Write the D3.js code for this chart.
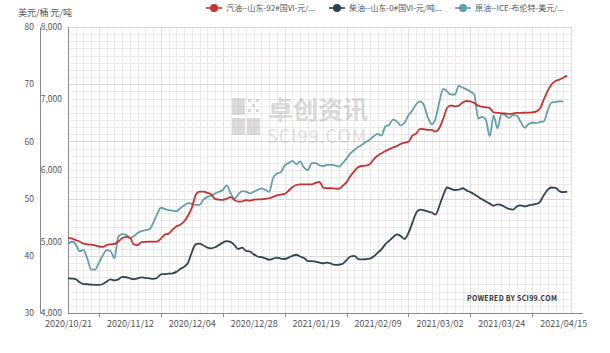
<!DOCTYPE html>
<html><head><meta charset="utf-8">
<script src="https://cdn.jsdelivr.net/npm/d3@7"></script>
<style>
body{margin:0;background:#fff}
svg{display:block}
text{font-family:"Microsoft YaHei","Noto Sans CJK SC","Noto Sans",sans-serif}
</style>
</head><body>
<svg id="chart" width="610" height="353"></svg>
<script>
// ---------------- data ----------------
const xLabels = ["2020/10/21","2020/11/12","2020/12/04","2020/12/28","2021/01/19","2021/02/09","2021/03/02","2021/03/24","2021/04/15"];
const labelStep = 16;
const seriesNames = ["汽油--山东-92#国VI-元/...","柴油--山东-0#国VI-元/吨...","原油--ICE-布伦特-美元/..."];
const seriesColors = ["#c23531","#2f4554","#61a0a8"];
const usdTicks = [30,40,50,60,70,80];
const yuanTicks = [4000,5000,6000,7000,8000];
const axisTitle = "美元/桶 元/吨";

// 汽油 (元/吨)
const gasoline = [5050,5040,5020,5000,4970,4960,4955,4945,4930,4925,4950,4960,4965,5000,5045,5065,5055,4960,4950,4990,
4995,4997,4997,4997,5040,5095,5110,5165,5210,5235,5280,5360,5470,5650,5697,5697,5680,5660,5595,5585,
5582,5600,5620,5580,5557,5560,5580,5572,5585,5590,5590,5595,5605,5625,5645,5655,5665,5710,5760,5790,
5800,5800,5800,5800,5820,5832,5750,5745,5745,5740,5738,5780,5830,5915,5985,6040,6056,6060,6080,6150,
6200,6233,6265,6290,6315,6335,6365,6382,6395,6480,6510,6575,6570,6560,6560,6536,6590,6720,6870,6905,
6890,6900,6945,6965,6960,6935,6900,6885,6877,6865,6805,6800,6795,6790,6785,6790,6798,6800,6801,6803,
6806,6820,6860,6990,7110,7200,7245,7265,7290,7320];
// 柴油 (元/吨)
const diesel = [4485,4482,4475,4430,4405,4402,4398,4393,4392,4405,4440,4470,4455,4470,4505,4500,4485,4472,4485,4498,
4490,4485,4478,4490,4540,4545,4550,4555,4575,4615,4645,4700,4850,4960,4970,4945,4915,4905,4920,4950,
4985,5005,4995,4950,4895,4915,4870,4860,4820,4790,4780,4765,4745,4760,4775,4760,4755,4775,4800,4815,
4790,4770,4725,4725,4720,4705,4695,4705,4690,4672,4675,4690,4740,4790,4800,4755,4750,4752,4760,4790,
4840,4890,4960,5010,5060,5100,5075,5035,5120,5260,5400,5445,5435,5420,5405,5375,5500,5650,5755,5735,
5720,5725,5745,5715,5690,5660,5625,5590,5560,5530,5500,5520,5510,5480,5455,5445,5490,5505,5490,5505,
5515,5525,5555,5650,5725,5755,5750,5705,5690,5697];
// 原油 ICE 布伦特 (美元/桶)
const brent = [42.0,42.5,42.0,40.8,41.0,39.5,37.6,37.6,38.8,40.1,41.0,40.8,39.6,43.3,43.8,43.7,43.1,43.4,44.0,44.3,
44.5,44.6,45.7,47.2,48.4,48.2,48.0,47.9,47.8,48.3,48.8,49.2,49.1,48.9,48.9,49.8,50.3,50.5,50.9,51.2,
51.5,52.3,51.0,50.0,50.7,51.3,51.2,50.9,51.2,51.5,51.8,51.5,51.2,53.6,54.4,54.6,55.8,56.2,56.6,56.0,
56.5,55.4,55.0,56.2,56.2,55.8,55.7,55.9,55.9,55.8,55.6,56.2,57.0,57.9,58.5,59.0,59.4,59.9,60.3,60.9,
61.3,61.0,62.6,62.9,63.8,63.5,62.8,63.3,64.6,65.4,66.5,67.0,66.3,64.2,63.0,64.0,67.0,69.2,68.7,68.2,
68.2,69.7,69.4,69.1,68.7,68.2,64.0,64.3,63.8,60.9,64.5,62.3,64.8,64.6,64.1,64.6,64.5,63.4,62.4,63.0,
63.3,63.2,63.4,63.5,65.5,66.8,66.9,67.0,67.0];

// ---------------- layout ----------------
const plot = {left:68, right:571, top:27, bottom:313};
const svg = d3.select("#chart");

const x = d3.scaleLinear().domain([0,130]).range([plot.left, plot.right]);
const yUsd = d3.scaleLinear().domain([30,80]).range([plot.bottom, plot.top]);
const yYuan = d3.scaleLinear().domain([4000,8000]).range([plot.bottom, plot.top]);

// minor grid
const g = svg.append("g");
const minorH = d3.range(30, 80.001, 1.25);
g.selectAll("line.mh").data(minorH).join("line")
  .attr("x1", plot.left).attr("x2", plot.right)
  .attr("y1", d=>Math.round(yUsd(d))+0.5).attr("y2", d=>Math.round(yUsd(d))+0.5)
  .attr("stroke", "#efe8e8").attr("stroke-width", 1);
const minorV = d3.range(0, 130.001, 2);
g.selectAll("line.mv").data(minorV).join("line")
  .attr("x1", d=>Math.round(x(d))+0.5).attr("x2", d=>Math.round(x(d))+0.5)
  .attr("y1", plot.top).attr("y2", plot.bottom)
  .attr("stroke", "#efe8e8").attr("stroke-width", 1);
// major grid
g.selectAll("line.MH").data(usdTicks).join("line")
  .attr("x1", plot.left).attr("x2", plot.right)
  .attr("y1", d=>Math.round(yUsd(d))+0.5).attr("y2", d=>Math.round(yUsd(d))+0.5)
  .attr("stroke", "#d8d8d8");
const majorV = d3.range(8, 130, labelStep);
g.selectAll("line.MV").data(majorV).join("line")
  .attr("x1", d=>Math.round(x(d))+0.5).attr("x2", d=>Math.round(x(d))+0.5)
  .attr("y1", plot.top).attr("y2", plot.bottom)
  .attr("stroke", "#e0e0e0");
g.append("line").attr("x1", plot.right+0.5).attr("x2", plot.right+0.5)
  .attr("y1", plot.top).attr("y2", plot.bottom).attr("stroke", "#dcdcdc");

// watermark
const wm = svg.append("g").attr("opacity", 0.5);
[[232,98],[232,118],[247,118]].forEach(([a,b])=>{
  wm.append("rect").attr("x",a).attr("y",b).attr("width",13).attr("height",17).attr("fill","#b8b8b8");
});
for (let i=0;i<3;i++) for (let j=0;j<3;j++) if ((i+j)%2===0)
  wm.append("rect").attr("x",248+i*4).attr("y",99+j*5).attr("width",3).attr("height",3).attr("fill","#b8b8b8");
wm.append("text").attr("x",268).attr("y",119).attr("font-size",25).attr("fill","#b8b8b8")
  .attr("font-family","'Noto Sans CJK SC'").attr("font-weight","bold").text("卓创资讯");
wm.append("text").attr("x",267).attr("y",143).attr("font-size",18).attr("fill","#c4c4c4")
  .attr("font-family","'Liberation Serif','DejaVu Serif',serif").attr("letter-spacing","1").text("SCI99.COM");

// axes
const xAxis = d3.axisBottom(x)
  .tickValues(d3.range(0, 129, labelStep))
  .tickSize(0).tickPadding(8)
  .tickFormat((d,i)=>xLabels[i]);
const xg = svg.append("g").attr("transform", `translate(0,${plot.bottom})`).call(xAxis);
xg.select(".domain").attr("stroke","#8a8a8a").attr("d", `M${plot.left},0.5H${plot.right+12}`);
xg.selectAll("text").attr("font-size",9).attr("fill","#555");
svg.append("g").selectAll("line").data(majorV).join("line")
  .attr("x1", d=>Math.round(x(d))+0.5).attr("x2", d=>Math.round(x(d))+0.5)
  .attr("y1", plot.bottom).attr("y2", plot.bottom+4).attr("stroke","#8a8a8a");

const yYuanAxis = d3.axisLeft(yYuan).tickValues(yuanTicks).tickSize(0).tickPadding(6)
  .tickFormat(d3.format(","));
const yg2 = svg.append("g").attr("transform", `translate(${plot.left},0)`).call(yYuanAxis);
yg2.select(".domain").attr("stroke","#8a8a8a");
yg2.selectAll("text").attr("font-size",8.5).attr("fill","#555");

const yUsdAxis = d3.axisLeft(yUsd).tickValues(usdTicks).tickSize(0).tickPadding(6);
const yg1 = svg.append("g").attr("transform", `translate(40,0)`).call(yUsdAxis);
yg1.select(".domain").attr("stroke","#8a8a8a");
yg1.selectAll("text").attr("font-size",8.5).attr("fill","#555");

svg.append("text").attr("x",18).attr("y",16).attr("font-size",9).attr("fill","#555").text(axisTitle);

// lines
const lineYuan = d3.line().x((d,i)=>x(i)).y(d=>yYuan(d)).curve(d3.curveMonotoneX);
const lineUsd = d3.line().x((d,i)=>x(i)).y(d=>yUsd(d)).curve(d3.curveMonotoneX);
const lines = svg.append("g").attr("fill","none").attr("stroke-width",1.8).attr("stroke-linejoin","round");
lines.append("path").attr("d", lineUsd(brent)).attr("stroke", seriesColors[2]);
lines.append("path").attr("d", lineYuan(diesel)).attr("stroke", seriesColors[1]);
lines.append("path").attr("d", lineYuan(gasoline)).attr("stroke", seriesColors[0]);

// legend
const legX = [206, 329, 455];
const leg = svg.append("g");
seriesNames.forEach((name,i)=>{
  const gx = leg.append("g").attr("transform", `translate(${legX[i]},8)`);
  gx.append("line").attr("x1",0).attr("x2",16).attr("y1",0).attr("y2",0).attr("stroke",seriesColors[i]).attr("stroke-width",1.6);
  gx.append("circle").attr("cx",8).attr("cy",0).attr("r",4).attr("fill",seriesColors[i]);
  gx.append("text").attr("x",20).attr("y",3).attr("font-size",8).attr("fill","#555").text(name);
});

// credit
svg.append("text").attr("x",467).attr("y",301).attr("font-size",7).attr("font-weight","bold")
  .attr("font-family","'Liberation Sans',Arial,sans-serif").attr("fill","#333").attr("letter-spacing","0.3")
  .text("POWERED BY SCI99.COM");
</script>
</body></html>
